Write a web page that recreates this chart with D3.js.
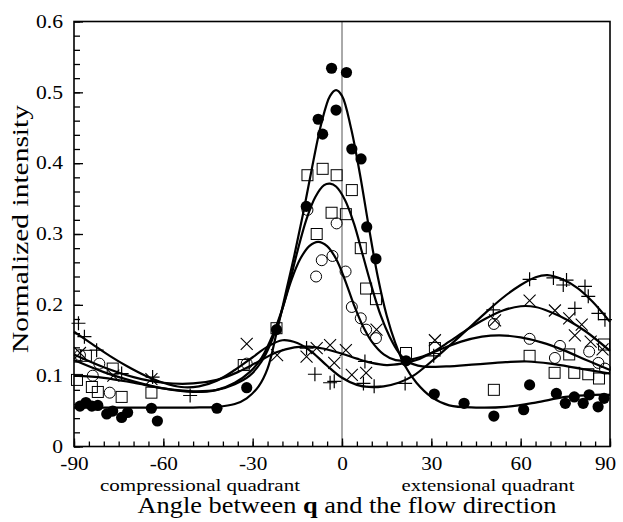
<!DOCTYPE html>
<html>
<head>
<meta charset="utf-8">
<script src="https://cdn.jsdelivr.net/npm/d3@7"></script>
<style>
  body { margin: 0; background: #fff; }
  text { font-family: "Liberation Serif", "Times New Roman", serif; fill: #000; }
</style>
</head>
<body>
<svg id="chart"></svg>
<script>
const width = 623;
const height = 522;
const margin = {left: 74, right: 13, top: 21.5, bottom: 75.5};

// measured points, [angle, intensity]
const filledPts = [[-88,0.057],[-86,0.062],[-84,0.057],[-82,0.058],[-79,0.046],[-77,0.050],[-74,0.041],[-72,0.048],
  [-64,0.054],[-62,0.036],[-42,0.054],[-32,0.083],[-22,0.165],[-12,0.339],[-8,0.462],[-6.5,0.441],[-3.5,0.534],
  [-2,0.475],[1.5,0.528],[3.3,0.420],[6.4,0.406],[8.3,0.310],[11.4,0.265],[21.5,0.121],[31,0.074],[41,0.061],
  [51,0.043],[61,0.052],[63,0.087],[72,0.075],[75,0.061],[78,0.070],[81,0.061],[83,0.073],[86,0.056],[88,0.068]];
const squarePts = [[-89,0.094],[-86,0.128],[-84,0.084],[-82,0.077],[-77,0.110],[-74,0.070],[-64,0.076],[-33,0.115],
  [-22,0.167],[-11.6,0.383],[-6.5,0.392],[-1.8,0.383],[3.3,0.362],[-3.5,0.330],[1.3,0.328],[-8.5,0.300],[6.3,0.280],
  [8.1,0.223],[11.4,0.208],[21.5,0.132],[31.2,0.139],[51,0.080],[63,0.128],[71.4,0.104],[76.3,0.130],[78,0.104],
  [82.7,0.102],[86.3,0.096],[88,0.144]];
const circlePts = [[-88,0.129],[-83.7,0.100],[-81.5,0.117],[-78,0.076],[-32,0.117],[-11.6,0.334],[-8.7,0.240],
  [-6.8,0.263],[-3.2,0.269],[-1.8,0.315],[1.2,0.247],[3.3,0.197],[6.3,0.181],[8.1,0.165],[11.4,0.153],
  [51,0.173],[63,0.152],[71.5,0.125],[73.2,0.142],[83,0.134],[86.1,0.118],[88.3,0.110]];
const crossPts = [[-88,0.132],[-76.8,0.100],[-64,0.095],[-32,0.145],[-21.8,0.129],[-11.9,0.127],[-8.5,0.139],
  [-4,0.143],[-2.6,0.118],[1.3,0.136],[3.3,0.101],[8.1,0.104],[11.6,0.165],[31.2,0.150],[51.4,0.178],[63,0.206],
  [71.5,0.192],[76.3,0.181],[78.2,0.157],[80.5,0.172],[83.5,0.148],[87.5,0.137]];
const plusPts = [[-88.5,0.174],[-86.5,0.155],[-82.4,0.136],[-74,0.103],[-63.6,0.098],[-51,0.072],[-11.9,0.139],
  [-9.1,0.102],[-4,0.090],[-2.6,0.092],[7.2,0.089],[7.7,0.120],[10.8,0.085],[21.2,0.089],[30.8,0.128],[50.8,0.193],
  [63,0.236],[71,0.238],[74.3,0.228],[75.4,0.235],[78.2,0.195],[81.6,0.226],[82.7,0.212],[86.1,0.188],[88.3,0.179]];

// fitted curves
const filledFit = [[-90,0.055],[-70,0.055],[-50,0.055],[-42,0.056],[-36,0.06],[-32,0.068],[-28,0.085],[-25,0.11],
  [-22,0.16],[-19,0.215],[-16,0.27],[-13,0.33],[-10,0.395],[-7,0.455],[-4,0.495],[-2,0.503],[0,0.495],[3,0.45],
  [6,0.385],[9,0.31],[12,0.24],[15,0.185],[18,0.145],[21,0.115],[25,0.09],[30,0.07],[36,0.058],[45,0.055],
  [55,0.056],[65,0.062],[75,0.07],[85,0.073],[90,0.073]];
const squareFit = [[-90,0.1],[-80,0.097],[-70,0.09],[-60,0.082],[-50,0.078],[-42,0.08],[-36,0.088],[-31,0.1],
  [-27,0.12],[-24,0.145],[-21,0.18],[-18,0.225],[-15,0.275],[-12,0.32],[-9,0.352],[-6,0.369],[-4,0.371],
  [-2,0.367],[1,0.348],[4,0.315],[7,0.27],[10,0.225],[13,0.185],[16,0.155],[19,0.133],[22,0.12],[27,0.113],
  [35,0.113],[45,0.116],[55,0.119],[62,0.12],[70,0.117],[80,0.11],[90,0.103]];
const circleFit = [[-90,0.122],[-80,0.105],[-70,0.092],[-60,0.082],[-50,0.077],[-42,0.08],[-36,0.09],[-31,0.105],
  [-27,0.125],[-23,0.16],[-20,0.195],[-17,0.235],[-14,0.265],[-11,0.283],[-8,0.289],[-5,0.283],[-2,0.265],
  [1,0.235],[4,0.2],[7,0.17],[10,0.148],[14,0.13],[18,0.122],[22,0.122],[27,0.127],[33,0.137],[40,0.148],
  [47,0.155],[53,0.157],[60,0.154],[67,0.147],[75,0.135],[82,0.122],[90,0.108]];
const crossFit = [[-90,0.13],[-80,0.112],[-70,0.098],[-60,0.09],[-50,0.089],[-42,0.094],[-35,0.105],[-28,0.12],
  [-22,0.133],[-16,0.14],[-11,0.141],[-6,0.138],[0,0.131],[5,0.124],[10,0.118],[15,0.115],[20,0.117],[25,0.122],
  [30,0.132],[36,0.148],[42,0.165],[48,0.18],[54,0.192],[60,0.198],[65,0.197],[70,0.19],[76,0.178],[82,0.162],
  [90,0.135]];
const plusFit = [[-90,0.162],[-84,0.145],[-78,0.128],[-72,0.113],[-66,0.1],[-60,0.09],[-54,0.084],[-48,0.085],
  [-42,0.093],[-36,0.108],[-30,0.126],[-25,0.141],[-20,0.15],[-15,0.146],[-10,0.133],[-5,0.114],[0,0.097],
  [5,0.087],[9,0.084],[14,0.085],[19,0.09],[24,0.1],[30,0.12],[36,0.142],[42,0.165],[48,0.188],[54,0.21],
  [60,0.228],[65,0.239],[69,0.242],[74,0.236],[79,0.224],[84,0.205],[90,0.176]];

const xTicks = [-90, -60, -30, 0, 30, 60, 90];
const yTicks = [0, 0.1, 0.2, 0.3, 0.4, 0.5, 0.6];

const svg = d3.select('#chart').attr('width', width).attr('height', height);

const x = d3.scaleLinear().domain([-90, 90]).range([margin.left, width - margin.right]);
const y = d3.scaleLinear().domain([0, 0.6]).range([height - margin.bottom, margin.top]);

// stretch text horizontally a bit, the figure's type is wider than ours
function widen(sel, k) {
  sel.each(function () {
    this.setAttribute('textLength', this.getComputedTextLength() * k);
    this.setAttribute('lengthAdjust', 'spacingAndGlyphs');
  });
}

// zero line
svg.append('line')
    .attr('x1', x(0)).attr('x2', x(0))
    .attr('y1', y(0.6)).attr('y2', y(0))
    .style('stroke', '#555').style('stroke-width', 1);

// minor ticks
svg.append('g')
    .attr('transform', `translate(${margin.left},0)`)
    .call(d3.axisLeft(y).tickValues(d3.range(0, 0.601, 0.02)).tickSize(-6).tickFormat(''))
    .call(g => g.select('.domain').remove());
svg.append('g')
    .attr('transform', `translate(0,${y(0)})`)
    .call(d3.axisBottom(x).tickValues(d3.range(-90, 91, 5)).tickSize(-5).tickFormat(''))
    .call(g => g.select('.domain').remove());

// major ticks + labels
const yAxis = svg.append('g')
    .attr('transform', `translate(${margin.left},0)`)
    .call(d3.axisLeft(y).tickValues(yTicks).tickSize(-9).tickPadding(11)
      .tickFormat(d => d === 0 ? '0' : d3.format('.1f')(d)));
yAxis.select('.domain').remove();
yAxis.selectAll('text').style('font-size', '18px').style('font-family', '"Liberation Serif", serif');
widen(yAxis.selectAll('text'), 1.2);

const xAxis = svg.append('g')
    .attr('transform', `translate(0,${y(0)})`)
    .call(d3.axisBottom(x).tickValues(xTicks).tickSize(-8).tickPadding(11).tickFormat(d => String(d)));
xAxis.select('.domain').remove();
xAxis.selectAll('text').style('font-size', '18px').style('font-family', '"Liberation Serif", serif');
widen(xAxis.selectAll('text'), 1.18);
xAxis.selectAll('.tick').filter(d => d === 90).select('text').attr('x', -5);

svg.selectAll('.tick line').style('stroke', '#000').style('stroke-width', 1.3);

// frame
svg.append('rect')
    .attr('x', x(-90)).attr('y', y(0.6))
    .attr('width', x(90) - x(-90)).attr('height', y(0) - y(0.6))
    .style('fill', 'none').style('stroke', '#000').style('stroke-width', 1.6);

// fitted curves
const line = d3.line()
    .x(d => x(d[0]))
    .y(d => y(d[1]))
    .curve(d3.curveCatmullRom.alpha(0.5));

[filledFit, squareFit, circleFit, crossFit, plusFit].forEach(fit => {
    svg.append('path')
        .datum(fit)
        .attr('d', line)
        .style('fill', 'none')
        .style('stroke', '#000')
        .style('stroke-width', 2.2);
});

// markers
const marks = svg.append('g');
marks.selectAll('.filled').data(filledPts).enter().append('circle')
    .attr('class', 'filled')
    .attr('cx', d => x(d[0])).attr('cy', d => y(d[1])).attr('r', 5.6)
    .style('fill', '#000');
marks.selectAll('.sq').data(squarePts).enter().append('rect')
    .attr('class', 'sq')
    .attr('x', d => x(d[0]) - 5.5).attr('y', d => y(d[1]) - 5.5)
    .attr('width', 11).attr('height', 11)
    .style('fill', 'none').style('stroke', '#000').style('stroke-width', 1);
marks.selectAll('.oc').data(circlePts).enter().append('circle')
    .attr('class', 'oc')
    .attr('cx', d => x(d[0])).attr('cy', d => y(d[1])).attr('r', 5.5)
    .style('fill', 'none').style('stroke', '#000').style('stroke-width', 1);
marks.selectAll('.cr').data(crossPts).enter().append('path')
    .attr('class', 'cr')
    .attr('d', d => {
        const cx = x(d[0]), cy = y(d[1]), s = 6;
        return `M${cx - s},${cy - s}L${cx + s},${cy + s}M${cx - s},${cy + s}L${cx + s},${cy - s}`;
    })
    .style('stroke', '#000').style('stroke-width', 1.1);
marks.selectAll('.pl').data(plusPts).enter().append('path')
    .attr('class', 'pl')
    .attr('d', d => {
        const cx = x(d[0]), cy = y(d[1]), s = 7;
        return `M${cx - s},${cy}L${cx + s},${cy}M${cx},${cy - s}L${cx},${cy + s}`;
    })
    .style('stroke', '#000').style('stroke-width', 1.2);

// titles
svg.append('text')
    .attr('x', 200).attr('y', 490.5)
    .attr('text-anchor', 'middle')
    .attr('textLength', 200).attr('lengthAdjust', 'spacingAndGlyphs')
    .style('font-size', '17px')
    .text('compressional quadrant');
svg.append('text')
    .attr('x', 488).attr('y', 490.5)
    .attr('text-anchor', 'middle')
    .attr('textLength', 173).attr('lengthAdjust', 'spacingAndGlyphs')
    .style('font-size', '17px')
    .text('extensional quadrant');

const xt = svg.append('text')
    .attr('x', 347).attr('y', 513)
    .attr('text-anchor', 'middle')
    .attr('textLength', 419).attr('lengthAdjust', 'spacingAndGlyphs')
    .style('font-size', '23px');
xt.append('tspan').text('Angle between ');
xt.append('tspan').style('font-weight', 'bold').text('q');
xt.append('tspan').text(' and the flow direction');

svg.append('text')
    .attr('transform', 'translate(28,229) rotate(-90)')
    .attr('text-anchor', 'middle')
    .attr('textLength', 248).attr('lengthAdjust', 'spacingAndGlyphs')
    .style('font-size', '23px')
    .text('Normalized intensity');
</script>
</body>
</html>
